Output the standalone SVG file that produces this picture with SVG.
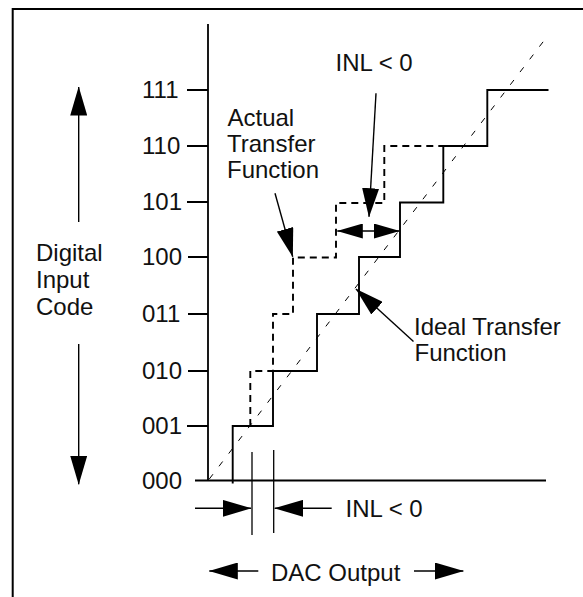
<svg xmlns="http://www.w3.org/2000/svg" width="583" height="597" viewBox="0 0 583 597">
<style>
text{font-family:"Liberation Sans",Arial,sans-serif;font-size:24px;fill:#111}
.frame{fill:none;stroke:#000;stroke-width:2}
.axis{fill:none;stroke:#000;stroke-width:1.8}
.ideal{fill:none;stroke:#000;stroke-width:1.9;stroke-linejoin:miter}
.actual{fill:none;stroke:#000;stroke-width:1.9;stroke-dasharray:7 5}
.diag{fill:none;stroke:#000;stroke-width:1;stroke-dasharray:6 10}
.arrow{fill:none;stroke:#000;stroke-width:1.4}
.tick{stroke:#000;stroke-width:1.3}
</style>
<defs>
<marker id="arr" viewBox="0 0 29 17" refX="28.5" refY="8.5" markerWidth="29" markerHeight="17" markerUnits="userSpaceOnUse" orient="auto-start-reverse"><path d="M0,0 L29,8.5 L0,17 z" fill="#000"/></marker>
<marker id="arrS" viewBox="0 0 26 15" refX="25.5" refY="7.5" markerWidth="26" markerHeight="15" markerUnits="userSpaceOnUse" orient="auto-start-reverse"><path d="M0,0 L26,7.5 L0,15 z" fill="#000"/></marker>
</defs>
<rect width="583" height="597" fill="#fff"/>
<path class="frame" d="M12.7,597 V9 H583"/>

<g id="axes">
<path class="axis" d="M208,24 V480.5 M195,480.5 H546"/>
<path class="axis" d="M187,90 H208 M187,146 H208 M187,202 H208 M188,257 H208 M188,314 H208 M188,371 H208 M187,426 H208"/>
</g>

<g id="axis-labels">
<text x="142" y="98">111</text>
<text x="142" y="154">110</text>
<text x="142" y="210">101</text>
<text x="142" y="265">100</text>
<text x="142" y="322">011</text>
<text x="142" y="379">010</text>
<text x="142" y="434">001</text>
<text x="142" y="489">000</text>
</g>

<g id="diagonal">
<line class="diag" x1="209.3" y1="479" x2="546" y2="38"/>
</g>

<g id="ideal-transfer">
<path class="ideal" d="M232.7,483.5 V426 H273 V371 H317 V314 H359 V257 H400 V202.5 H443.3 V146 H487.3 V90 H548.5"/>
</g>

<g id="actual-transfer">
<path class="actual" d="M250.3,426 V371 H273 V314 H293 V257.5 H336 V203 H384.3 V146 H443.3"/>
</g>

<g id="connectors">
<line class="arrow" x1="78.7" y1="222" x2="78.7" y2="87" marker-end="url(#arr)"/>
<line class="arrow" x1="78.7" y1="344" x2="78.7" y2="484.3" marker-end="url(#arr)"/>
<line class="arrow" x1="275" y1="193.3" x2="292.7" y2="256.7" marker-end="url(#arr)"/>
<line class="arrow" x1="376" y1="93.3" x2="369" y2="216.7" marker-end="url(#arr)"/>
<line class="arrow" x1="337.3" y1="231" x2="399.3" y2="231" marker-start="url(#arrS)" marker-end="url(#arrS)"/>
<line class="arrow" x1="413.5" y1="341.5" x2="356" y2="289" marker-end="url(#arr)"/>
<line class="tick" x1="252" y1="452" x2="252" y2="535"/>
<line class="tick" x1="273.7" y1="450" x2="273.7" y2="533"/>
<line class="arrow" x1="195" y1="508.3" x2="251" y2="508.3" marker-end="url(#arr)"/>
<line class="arrow" x1="331.7" y1="508.3" x2="274.7" y2="508.3" marker-end="url(#arr)"/>
<line class="arrow" x1="258.3" y1="571" x2="209.3" y2="571" marker-end="url(#arr)"/>
<line class="arrow" x1="414" y1="571" x2="463.3" y2="571" marker-end="url(#arr)"/>
</g>

<g id="label-digital-input-code">
<text x="36" y="261">Digital</text>
<text x="36" y="288">Input</text>
<text x="36" y="314.5">Code</text>
</g>
<g id="label-actual">
<text x="227.5" y="125.5">Actual</text>
<text x="227" y="152">Transfer</text>
<text x="227" y="178.3">Function</text>
</g>
<g id="label-ideal">
<text x="414" y="334.5">Ideal Transfer</text>
<text x="414.5" y="360.5">Function</text>
</g>
<g id="label-inl-top">
<text x="335.5" y="70.7">INL &lt; 0</text>
</g>
<g id="label-inl-bottom">
<text x="345.5" y="516.7">INL &lt; 0</text>
</g>
<g id="label-dac">
<text x="271" y="581">DAC Output</text>
</g>
</svg>
